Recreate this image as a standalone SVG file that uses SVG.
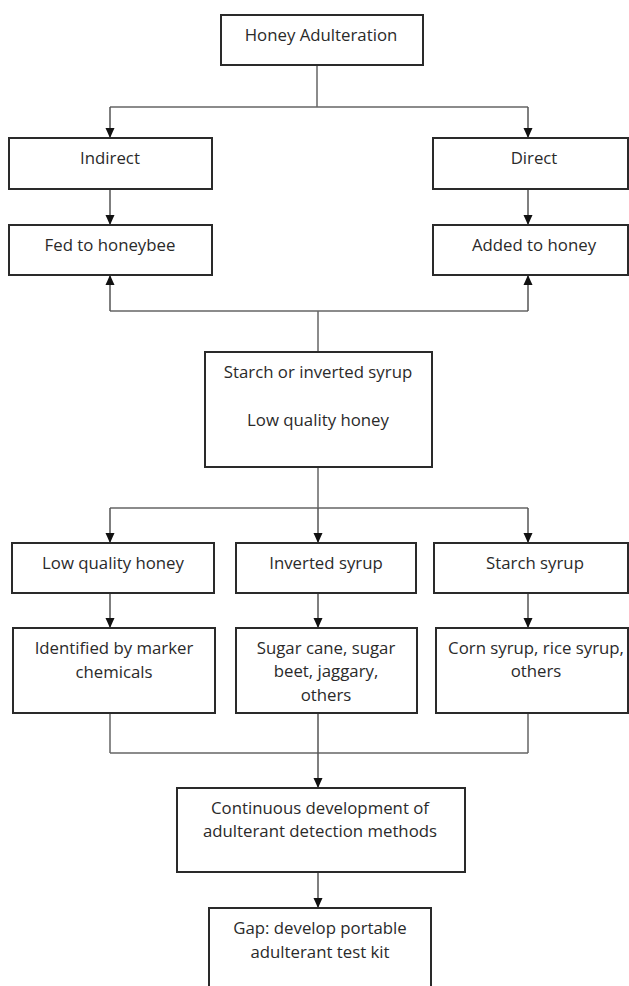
<svg xmlns="http://www.w3.org/2000/svg" width="629" height="986" viewBox="0 0 629 986">
<style>
.box{fill:#fff;stroke:#2a2a2a;stroke-width:2}
.t{font-family:"Open Sans","Noto Sans",sans-serif;font-size:16.8px;fill:#2a2a2a;text-anchor:middle}
.c{fill:none;stroke:#666;stroke-width:1.5}
.a{fill:none;stroke:#555;stroke-width:1.5;marker-end:url(#arr)}
</style>
<defs>
<marker id="arr" viewBox="0 0 10 10" refX="10" refY="5" markerWidth="10" markerHeight="10" markerUnits="userSpaceOnUse" orient="auto">
<path d="M0,0.5 L10,5 L0,9.5 Z" fill="#111"/>
</marker>
</defs>
<rect width="629" height="986" fill="#fff"/>
<g id="connectors">
<path class="c" d="M317,65 V107 M110,107 H528"/>
<path class="a" d="M110,107 V138"/>
<path class="a" d="M528,107 V138"/>
<path class="a" d="M110,189 V225"/>
<path class="a" d="M528,189 V225"/>
<path class="c" d="M110,311 H528 M318,311 V352"/>
<path class="a" d="M110,311 V275"/>
<path class="a" d="M528,311 V275"/>
<path class="c" d="M318,467 V508 M110,508 H528"/>
<path class="a" d="M110,508 V543"/>
<path class="a" d="M318,508 V543"/>
<path class="a" d="M528,508 V543"/>
<path class="a" d="M110,593 V628"/>
<path class="a" d="M318,593 V628"/>
<path class="a" d="M528,593 V628"/>
<path class="c" d="M110,713 V753 M528,713 V753 M110,753 H528"/>
<path class="a" d="M318,713 V788"/>
<path class="a" d="M318,872 V908"/>
</g>
<g id="n-root"><rect class="box" x="221" y="15" width="202" height="50"/><text class="t" x="321" y="41">Honey Adulteration</text></g>
<g id="n-indirect"><rect class="box" x="9" y="138" width="203" height="51"/><text class="t" x="110" y="164">Indirect</text></g>
<g id="n-direct"><rect class="box" x="433" y="138" width="195" height="51"/><text class="t" x="534" y="164">Direct</text></g>
<g id="n-fed"><rect class="box" x="9" y="225" width="203" height="50"/><text class="t" x="110" y="251">Fed to honeybee</text></g>
<g id="n-added"><rect class="box" x="433" y="225" width="195" height="50"/><text class="t" x="534" y="251">Added to honey</text></g>
<g id="n-starch-or"><rect class="box" x="205" y="352" width="227" height="115"/><text class="t" x="318" y="378">Starch or inverted syrup</text><text class="t" x="318" y="426">Low quality honey</text></g>
<g id="n-lqh"><rect class="box" x="12" y="543" width="202" height="50"/><text class="t" x="113" y="569">Low quality honey</text></g>
<g id="n-inv"><rect class="box" x="236" y="543" width="180" height="50"/><text class="t" x="326" y="569">Inverted syrup</text></g>
<g id="n-starch"><rect class="box" x="434" y="543" width="194" height="50"/><text class="t" x="535" y="569">Starch syrup</text></g>
<g id="n-ident"><rect class="box" x="13" y="628" width="202" height="85"/><text class="t" x="114" y="654">Identified by marker</text><text class="t" x="114" y="678">chemicals</text></g>
<g id="n-sugar"><rect class="box" x="236" y="628" width="181" height="85"/><text class="t" x="326" y="654">Sugar cane, sugar</text><text class="t" x="326" y="677">beet, jaggary,</text><text class="t" x="326" y="701">others</text></g>
<g id="n-corn"><rect class="box" x="436" y="628" width="192" height="85"/><text class="t" x="536" y="654">Corn syrup, rice syrup,</text><text class="t" x="536" y="677">others</text></g>
<g id="n-cont"><rect class="box" x="177" y="788" width="288" height="84"/><text class="t" x="320" y="814">Continuous development of</text><text class="t" x="320" y="837">adulterant detection methods</text></g>
<g id="n-gap"><rect class="box" x="209" y="908" width="222" height="90"/><text class="t" x="320" y="934">Gap: develop portable</text><text class="t" x="320" y="958">adulterant test kit</text></g>
</svg>
